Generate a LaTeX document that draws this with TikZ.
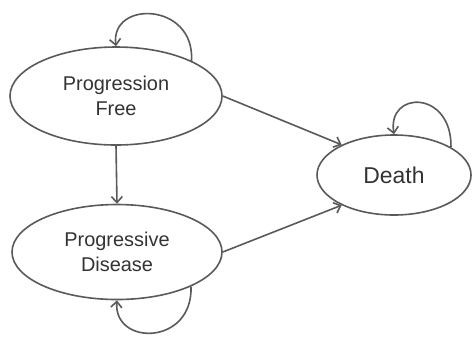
\documentclass[tikz,border=0pt]{standalone}
\usepackage{fontspec}
\setmainfont{Liberation Sans}
\usetikzlibrary{shapes.geometric,arrows.meta}
\definecolor{edge}{HTML}{5A5A5A}
\definecolor{txt}{HTML}{333333}
\begin{document}
\begin{tikzpicture}[x=1bp,y=-1bp,
  state/.style={ellipse,draw=edge,line width=1.6bp,fill=white,inner sep=0pt,align=center,text=txt},
  conn/.style={draw=edge,line width=1.6bp,-{Straight Barb[length=6bp,width=11bp,line width=1.6bp]}}]
\fill[white] (0,0) rectangle (474,336);
\useasboundingbox (0,0) rectangle (474,336);
\node[state,minimum width=212bp,minimum height=98bp,font=\fontsize{20}{25}\selectfont] (pf) at (116,96) {Progression\\Free};
\node[state,minimum width=210bp,minimum height=95bp,font=\fontsize{20}{25}\selectfont] (pd) at (117,252) {Progressive\\Disease};
\node[state,minimum width=154bp,minimum height=80bp,font=\fontsize{23}{28}\selectfont] (dt) at (394,175) {Death};
\draw[conn] (pf.25) .. controls (195,2) and (110,0) .. (pf.north);
\draw[conn] (pd.-25) .. controls (193,346) and (113,346) .. (pd.south);
\draw[conn] (dt.26) .. controls (452,90) and (387,90) .. (dt.north);
\draw[conn] (pf.south) -- (pd.north);
\draw[conn] (pf.east) -- (dt.150);
\draw[conn] (pd.east) -- (dt.210);
\end{tikzpicture}
\end{document}
